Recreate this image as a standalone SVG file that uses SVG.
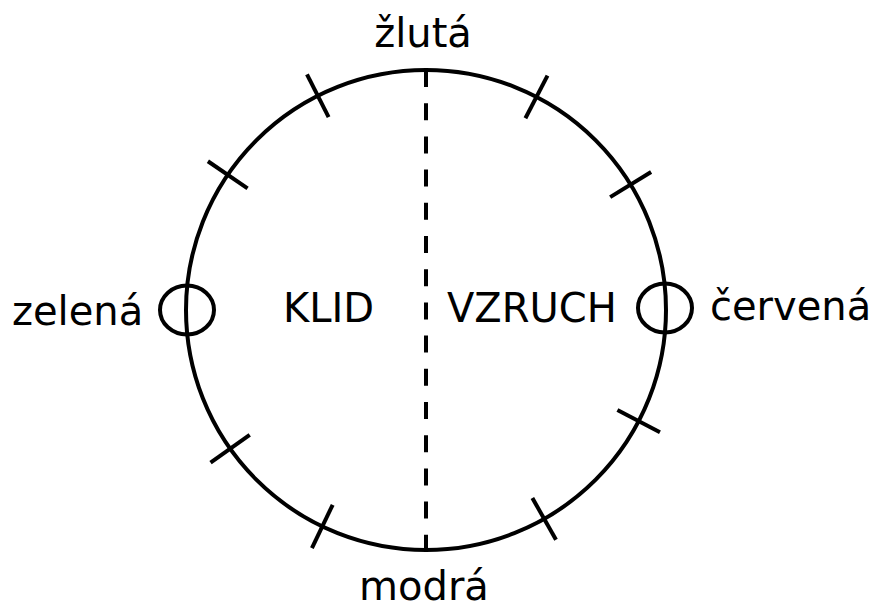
<svg xmlns="http://www.w3.org/2000/svg" width="876" height="610" viewBox="0 0 876 610">
<style>
.s{fill:none;stroke:#000;stroke-width:4}
.t{font-family:"DejaVu Sans",sans-serif;font-size:40px;fill:#000}
</style>
<rect width="876" height="610" fill="#fff"/>
<g id="ring">
<circle class="s" cx="426" cy="310" r="240"/>
</g>
<g id="connectors">
<line class="s" x1="426" y1="70" x2="426" y2="550" stroke-dasharray="17 16.2"/>
<g id="ticks">
<line class="s" x1="426" y1="46" x2="426" y2="94" transform="rotate(27.4 426 310)"/>
<line class="s" x1="426" y1="46" x2="426" y2="94" transform="rotate(58.5 426 310)"/>
<line class="s" x1="426" y1="46" x2="426" y2="94" transform="rotate(117.6 426 310)"/>
<line class="s" x1="426" y1="46" x2="426" y2="94" transform="rotate(150.5 426 310)"/>
<line class="s" x1="426" y1="46" x2="426" y2="94" transform="rotate(205.6 426 310)"/>
<line class="s" x1="426" y1="46" x2="426" y2="94" transform="rotate(234.7 426 310)"/>
<line class="s" x1="426" y1="46" x2="426" y2="94" transform="rotate(304.3 426 310)"/>
<line class="s" x1="426" y1="46" x2="426" y2="94" transform="rotate(333.2 426 310)"/>
</g>
</g>
<g id="zelena">
<ellipse class="s" cx="187" cy="310" rx="27" ry="24.5"/>
<text class="t" x="12" y="325">zelená</text>
</g>
<g id="cervena">
<ellipse class="s" cx="665" cy="308" rx="27" ry="24.5"/>
<text class="t" x="710" y="320">červená</text>
</g>
<g id="zluta"><text class="t" x="423" y="47" text-anchor="middle">žlutá</text></g>
<g id="modra"><text class="t" x="424" y="600" text-anchor="middle">modrá</text></g>
<g id="klid"><text class="t" x="283" y="322">KLID</text></g>
<g id="vzruch"><text class="t" x="447" y="322">VZRUCH</text></g>
</svg>
